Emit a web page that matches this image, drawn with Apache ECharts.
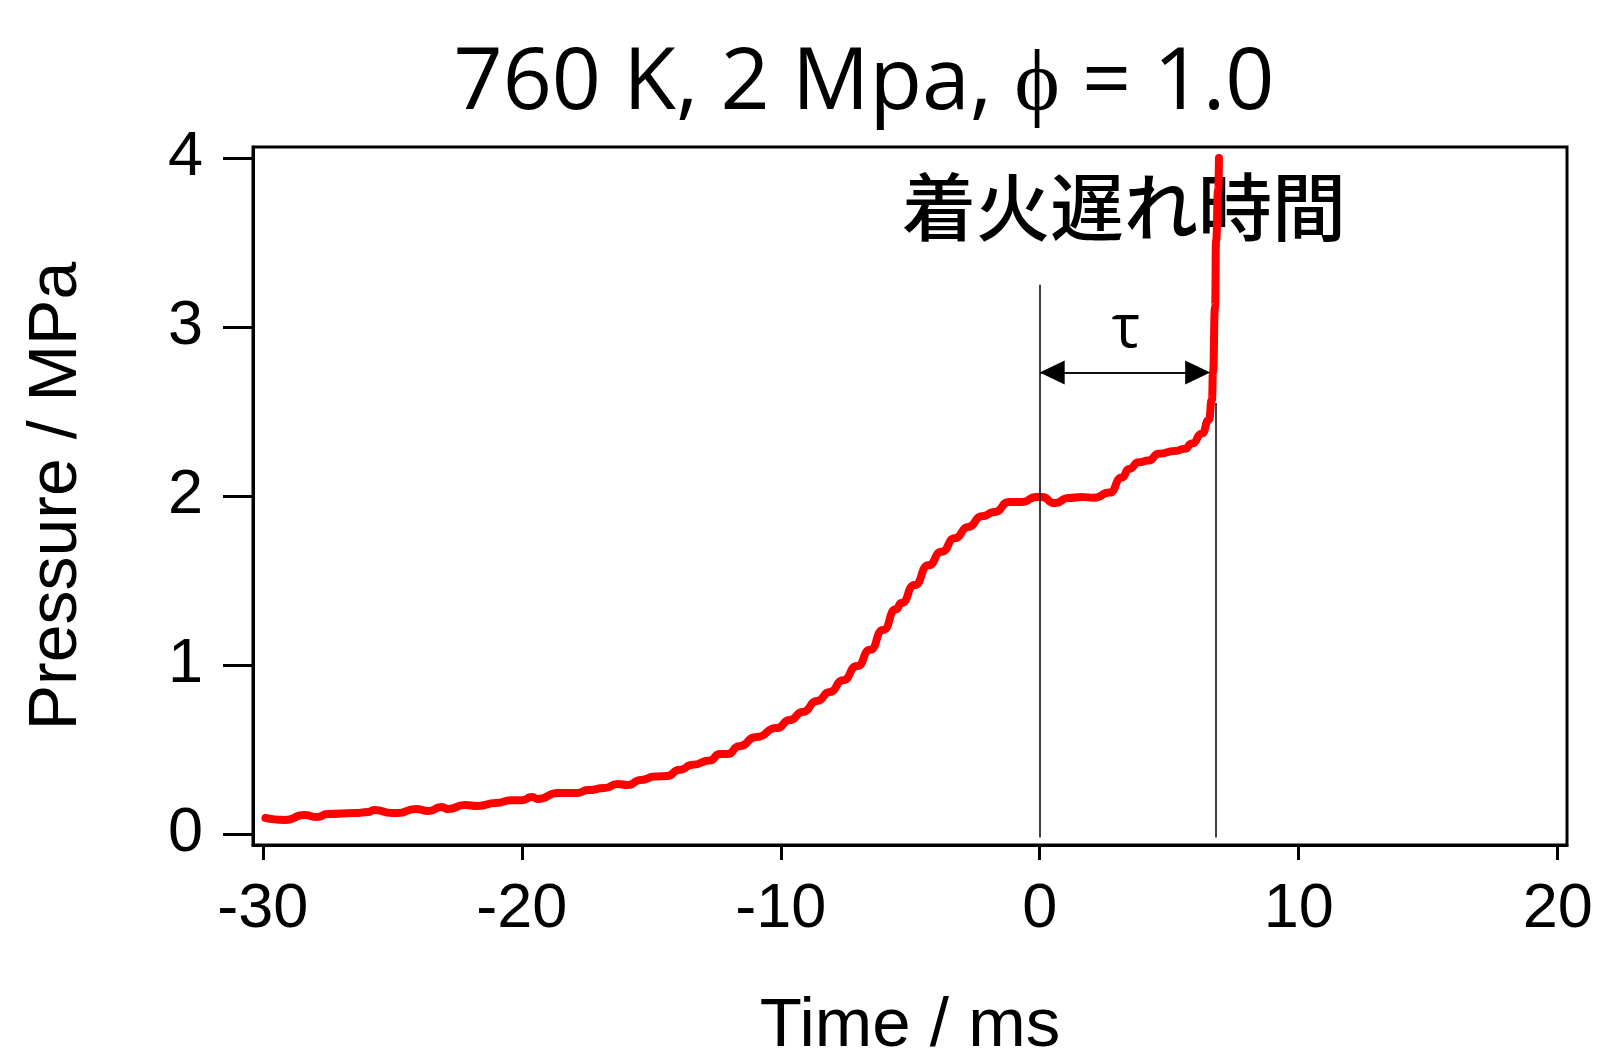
<!DOCTYPE html>
<html>
<head>
<meta charset="utf-8">
<script src="https://cdn.jsdelivr.net/npm/echarts@6/dist/echarts.min.js"></script>
<style>
html, body { margin: 0; padding: 0; background: #fff; }
#main { width: 1608px; height: 1061px; }
</style>
</head>
<body>
<div id="main"></div>
<script>
// pressure trace
var timeMs = [-29.9, -29.15, -28.4, -27.9, -27.5, -26.45, -25.95, -25.7, -25.0, -24.8,
    -24.1, -23.6, -23.1, -22.85, -22.2, -21.7, -21.0, -20.4, -20.0, -19.6,
    -19.4, -18.6, -17.85, -17.45, -16.8, -16.3, -15.9, -15.4, -14.85, -14.4,
    -13.9, -13.4, -12.75, -12.35, -12.05, -11.6, -10.95, -10.15, -9.65, -9.15,
    -8.6, -8.1, -7.6, -7.05, -6.55, -6.05, -5.55, -5.34, -4.83, -4.3,
    -3.79, -3.28, -2.76, -2.24, -1.73, -1.2, -0.7, -0.12, 0.08, 0.58,
    1.12, 1.62, 2.1, 2.7, 3.17, 3.45, 3.83, 4.2, 4.6, 5.22,
    5.6, 5.88, 6.27, 6.53, 6.65, 6.69, 6.77, 6.81, 6.89, 6.92];
var pressureMPa = [0.095, 0.083, 0.112, 0.10, 0.118, 0.124, 0.13, 0.142, 0.124, 0.124,
    0.148, 0.136, 0.16, 0.148, 0.172, 0.166, 0.183, 0.20, 0.20, 0.219,
    0.207, 0.243, 0.243, 0.26, 0.272, 0.296, 0.29, 0.32, 0.34, 0.343,
    0.38, 0.41, 0.435, 0.473, 0.473, 0.52, 0.574, 0.627, 0.675, 0.722,
    0.787, 0.84, 0.91, 0.994, 1.09, 1.207, 1.33, 1.367, 1.473, 1.59,
    1.67, 1.75, 1.817, 1.88, 1.905, 1.964, 1.964, 1.994, 1.994, 1.958,
    1.988, 1.994, 1.99, 2.02, 2.11, 2.16, 2.2, 2.21, 2.25, 2.266,
    2.28, 2.31, 2.37, 2.45, 2.57, 2.73, 3.12, 3.51, 3.81, 4.0];

var xTicks = [-30, -20, -10, 0, 10, 20];
var yTicks = [0, 1, 2, 3, 4];

// ignition delay markers (ms) and the arrow (MPa)
var tauStart = 0;
var tauEnd = 6.8;
var arrowFrom = 0.48;   // centre of the left arrowhead
var arrowTo = 6.1;      // centre of the right arrowhead
var arrowLevel = 2.73;
var markerBottom = -0.02;
var markerTop = 3.25;
var endMarkerTop = 2.55; // above this the trace covers the line

var labelTexts = ['着火遅れ時間', 'τ'];
var labelTime = [3.25, 3.33];
var labelPressure = [3.71, 2.98];

var trace = timeMs.map(function (t, i) { return [t, pressureMPa[i]]; });

var chart = echarts.init(document.getElementById('main'));

var option = {
    animation: false,
    backgroundColor: '#fff',
    graphic: [{
        type: 'text',
        x: 864,
        y: 84,
        style: {
            text: '760 K, 2 Mpa, ϕ = 1.0',
            font: '86px "Open Sans"',
            fill: '#000',
            textAlign: 'center',
            textVerticalAlign: 'middle'
        }
    }],
    grid: {
        left: 253,
        right: 41,
        top: 147,
        bottom: 216,
        outerBoundsMode: 'none',
        show: true,
        borderColor: '#000',
        borderWidth: 3
    },
    xAxis: {
        type: 'value',
        min: -30.38,
        max: 20.36,
        name: 'Time / ms',
        nameLocation: 'middle',
        nameGap: 147,
        nameTextStyle: { fontFamily: 'Liberation Sans', fontSize: 69, color: '#000' },
        axisLine: { onZero: false, lineStyle: { color: '#000', width: 3 } },
        axisTick: { show: true, length: 15, lineStyle: { color: '#000', width: 3 }, customValues: xTicks },
        axisLabel: { margin: 33, fontFamily: 'Liberation Sans', fontSize: 63, color: '#000', customValues: xTicks },
        splitLine: { show: false }
    },
    yAxis: {
        type: 'value',
        min: -0.065,
        max: 4.065,
        name: 'Pressure / MPa',
        nameLocation: 'middle',
        nameGap: 162,
        nameTextStyle: { fontFamily: 'Liberation Sans', fontSize: 68, color: '#000' },
        axisLine: { onZero: false, lineStyle: { color: '#000', width: 3 } },
        axisTick: { show: true, length: 30, lineStyle: { color: '#000', width: 3 }, customValues: yTicks },
        axisLabel: { margin: 50, fontFamily: 'Liberation Sans', fontSize: 63, color: '#000', customValues: yTicks },
        splitLine: { show: false }
    },
    series: [{
        type: 'scatter',
        symbolSize: 1,
        silent: true,
        itemStyle: { color: '#fff', opacity: 1 },
        labelLayout: { hideOverlap: false },
        label: {
            show: true,
            position: 'inside',
            color: '#000',
            opacity: 1,
            textBorderWidth: 0,
            formatter: function (p) { return p.value[2]; }
        },
        data: [
            { value: [labelTime[0], labelPressure[0], labelTexts[0]],
              label: { color: '#000', fontFamily: 'Noto Sans CJK JP', fontWeight: 500, fontSize: 74 } },
            { value: [labelTime[1], labelPressure[1], labelTexts[1]],
              label: { color: '#000', fontFamily: 'Open Sans', fontSize: 60 } }
        ]
    }, {
        type: 'line',
        silent: true,
        symbol: 'none',
        data: [],
        markLine: {
            silent: true,
            symbol: 'none',
            label: { show: false },
            lineStyle: { color: '#000', width: 1.5, type: 'solid' },
            data: [
                [{ coord: [tauStart, markerBottom] }, { coord: [tauStart, markerTop] }],
                [{ coord: [tauEnd, markerBottom] }, { coord: [tauEnd, endMarkerTop] }],
                [{ coord: [arrowFrom, arrowLevel], symbol: 'triangle', symbolSize: [24, 25] },
                 { coord: [arrowTo, arrowLevel], symbol: 'triangle', symbolSize: [24, 25] }],
                [{ coord: [tauStart, arrowLevel] }, { coord: [arrowTo, arrowLevel] }]
            ]
        }
    }, {
        type: 'line',
        data: trace,
        symbol: 'none',
        smooth: 0.6,
        smoothMonotone: 'x',
        lineStyle: { color: '#ff0000', width: 8, cap: 'round', join: 'round' }
    }]
};

chart.setOption(option);
</script>
</body>
</html>
